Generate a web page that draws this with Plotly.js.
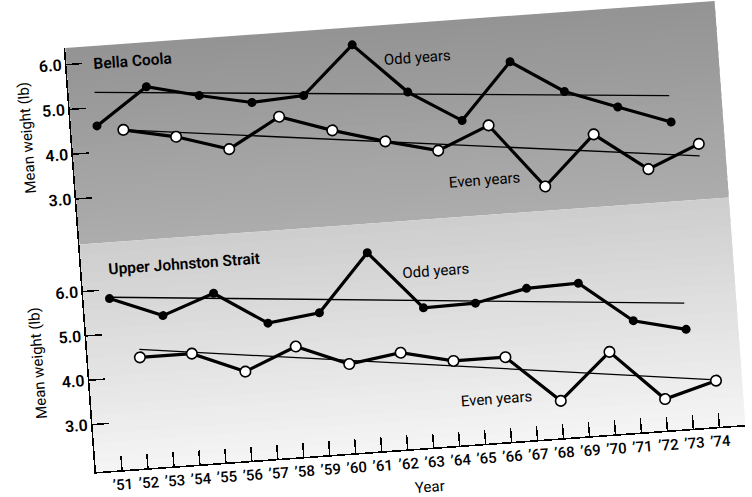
<!DOCTYPE html>
<html>
<head>
<meta charset="utf-8">
<script src="https://cdn.plot.ly/plotly-3.0.1.min.js"></script>
<style>
  html, body { margin: 0; padding: 0; background: #fff; overflow: hidden; }
  /* the printed figure sits slightly tilted on the page */
  #chart { width: 760px; height: 540px; transform: rotate(-4.15deg); transform-origin: 96px 472px; }
</style>
</head>
<body>
<div id="chart"></div>
<script>
// Mean weight (lb) of pink salmon, odd- and even-year runs
const oddYears  = [1951, 1953, 1955, 1957, 1959, 1961, 1963, 1965, 1967, 1969, 1971, 1973];
const evenYears = [1952, 1954, 1956, 1958, 1960, 1962, 1964, 1966, 1968, 1970, 1972, 1974];

const bellaOdd  = [4.59, 5.38, 5.10, 4.86, 4.93, 5.98, 4.84, 4.12, 5.35, 4.60, 4.17, 3.75];
const bellaEven = [4.46, 4.22, 3.86, 4.50, 4.11, 3.78, 3.49, 3.97, 2.52, 3.60, 2.74, 3.22];
const johnstonOdd  = [5.80, 5.33, 5.75, 4.99, 5.14, 6.41, 5.08, 5.10, 5.35, 5.38, 4.45, 4.17];
const johnstonEven = [4.43, 4.43, 3.94, 4.42, 3.94, 4.11, 3.84, 3.84, 2.77, 3.79, 2.64, 2.97];

// fitted trend lines (start and end of each)
const oddTrendYears  = [1951, 1973];
const evenTrendYears = [1952, 1974];
const bellaOddTrend  = [5.34, 4.34];
const bellaEvenTrend = [4.46, 2.95];
const johnstonOddTrend  = [5.83, 4.76];
const johnstonEvenTrend = [4.61, 2.99];

const yearTicks = [1951,1952,1953,1954,1955,1956,1957,1958,1959,1960,1961,1962,1963,1964,1965,1966,1967,1968,1969,1970,1971,1972,1973,1974,1975];
const yearLabels = ["’51","’52","’53","’54","’55","’56","’57","’58","’59","’60","’61","’62","’63","’64","’65","’66","’67","’68","’69","’70","’71","’72","’73","’74",""];
const weightTicks = [3, 4, 5, 6];
const weightLabels = ["3.0", "4.0", "5.0", "6.0"];

const FONT = "Roboto, 'Liberation Sans', Arial, sans-serif";

function trend(x, y, yaxis) {
  return { x: x, y: y, yaxis: yaxis, mode: "lines", line: { color: "#000", width: 1.3 },
           hoverinfo: "skip", showlegend: false };
}
function oddSeries(x, y, yaxis) {
  return { x: x, y: y, yaxis: yaxis, mode: "lines+markers",
           line: { color: "#000", width: 3.2 },
           marker: { symbol: "circle", size: 9, color: "#000" }, showlegend: false };
}
function evenSeries(x, y, yaxis) {
  return { x: x, y: y, yaxis: yaxis, mode: "lines+markers",
           line: { color: "#000", width: 3.2 },
           marker: { symbol: "circle", size: 10.5, color: "#fff", line: { color: "#000", width: 1.6 } },
           showlegend: false };
}

const traces = [
  trend(oddTrendYears, bellaOddTrend, "y2"),
  trend(evenTrendYears, bellaEvenTrend, "y2"),
  oddSeries(oddYears, bellaOdd, "y2"),
  evenSeries(evenYears, bellaEven, "y2"),
  trend(oddTrendYears, johnstonOddTrend, "y"),
  trend(evenTrendYears, johnstonEvenTrend, "y"),
  oddSeries(oddYears, johnstonOdd, "y"),
  evenSeries(evenYears, johnstonEven, "y")
];

// shaded panel backgrounds: a soft vertical gradient built from overlapping bands
const shapes = [];
function gradient(yref, topGray, bottomGray, steps) {
  for (let i = 0; i < steps; i++) {
    const g = Math.round(topGray + (bottomGray - topGray) * i / (steps - 1));
    const y1 = 1 - i / steps;
    const y0 = Math.max(0, 1 - (i + 1.6) / steps);   // overlap the next band to hide seams
    shapes.push({ type: "rect", layer: "below", xref: "paper", yref: yref,
                  x0: 0, x1: 1, y0: i === steps - 1 ? 0 : y0, y1: y1,
                  fillcolor: "rgb(" + g + "," + g + "," + g + ")", line: { width: 0 } });
  }
}
gradient("y2 domain", 148, 172, 24);
gradient("y domain", 206, 244, 24);

const split = 0.5365;
const axisCommon = {
  showline: true, linecolor: "#000", linewidth: 1.6, showgrid: false, zeroline: false,
  ticks: "inside", tickcolor: "#000", tickwidth: 1.5, fixedrange: true
};

const label = (text, x, y, yref, size, weight) => ({
  text: text, x: x, y: y, xref: "x", yref: yref, xanchor: "left", yanchor: "middle",
  showarrow: false, font: { family: FONT, size: size, color: "#000", weight: weight }
});

const layout = {
  width: 760, height: 540, autosize: false,
  margin: { l: 96, r: 13, t: 47, b: 68 },
  paper_bgcolor: "rgba(0,0,0,0)", plot_bgcolor: "rgba(0,0,0,0)",
  showlegend: false,
  xaxis: Object.assign({}, axisCommon, {
    range: [1950, 1975], anchor: "y", tickvals: yearTicks, ticktext: yearLabels,
    ticklen: 14, tickfont: { family: FONT, size: 15, color: "#000", weight: 500 }
  }),
  yaxis: Object.assign({}, axisCommon, {
    domain: [0, split], range: [1.93, 7.06], anchor: "x",
    tickvals: weightTicks, ticktext: weightLabels, ticklen: 16,
    tickfont: { family: FONT, size: 16, color: "#000", weight: 600 }
  }),
  yaxis2: Object.assign({}, axisCommon, {
    domain: [split, 1], range: [1.98, 6.37], anchor: "x",
    tickvals: weightTicks, ticktext: weightLabels, ticklen: 16,
    tickfont: { family: FONT, size: 16, color: "#000", weight: 600 }
  }),
  shapes: shapes,
  annotations: [
    label("Bella Coola", 1950.95, 5.98, "y2", 15.5, 600),
    label("Odd years", 1962.1, 5.58, "y2", 15, 400),
    label("Even years", 1964.25, 2.76, "y2", 15, 400),
    label("Upper Johnston Strait", 1950.95, 6.45, "y", 15.5, 600),
    label("Odd years", 1962.2, 5.90, "y", 15, 400),
    label("Even years", 1964.1, 2.93, "y", 15, 400),
    { text: "Mean weight (lb)", textangle: -90, xref: "paper", x: 0, xshift: -45,
      yref: "y2", y: 4.44, xanchor: "center", yanchor: "middle", showarrow: false,
      font: { family: FONT, size: 15, color: "#000" } },
    { text: "Mean weight (lb)", textangle: -90, xref: "paper", x: 0, xshift: -50,
      yref: "y", y: 4.47, xanchor: "center", yanchor: "middle", showarrow: false,
      font: { family: FONT, size: 15, color: "#000" } },
    { text: "Year", xref: "paper", x: 0.51, yref: "paper", y: 0, yshift: -39,
      xanchor: "center", yanchor: "middle", showarrow: false,
      font: { family: FONT, size: 15, color: "#000" } }
  ]
};

Plotly.newPlot("chart", traces, layout, { staticPlot: true, displayModeBar: false });
</script>
</body>
</html>
